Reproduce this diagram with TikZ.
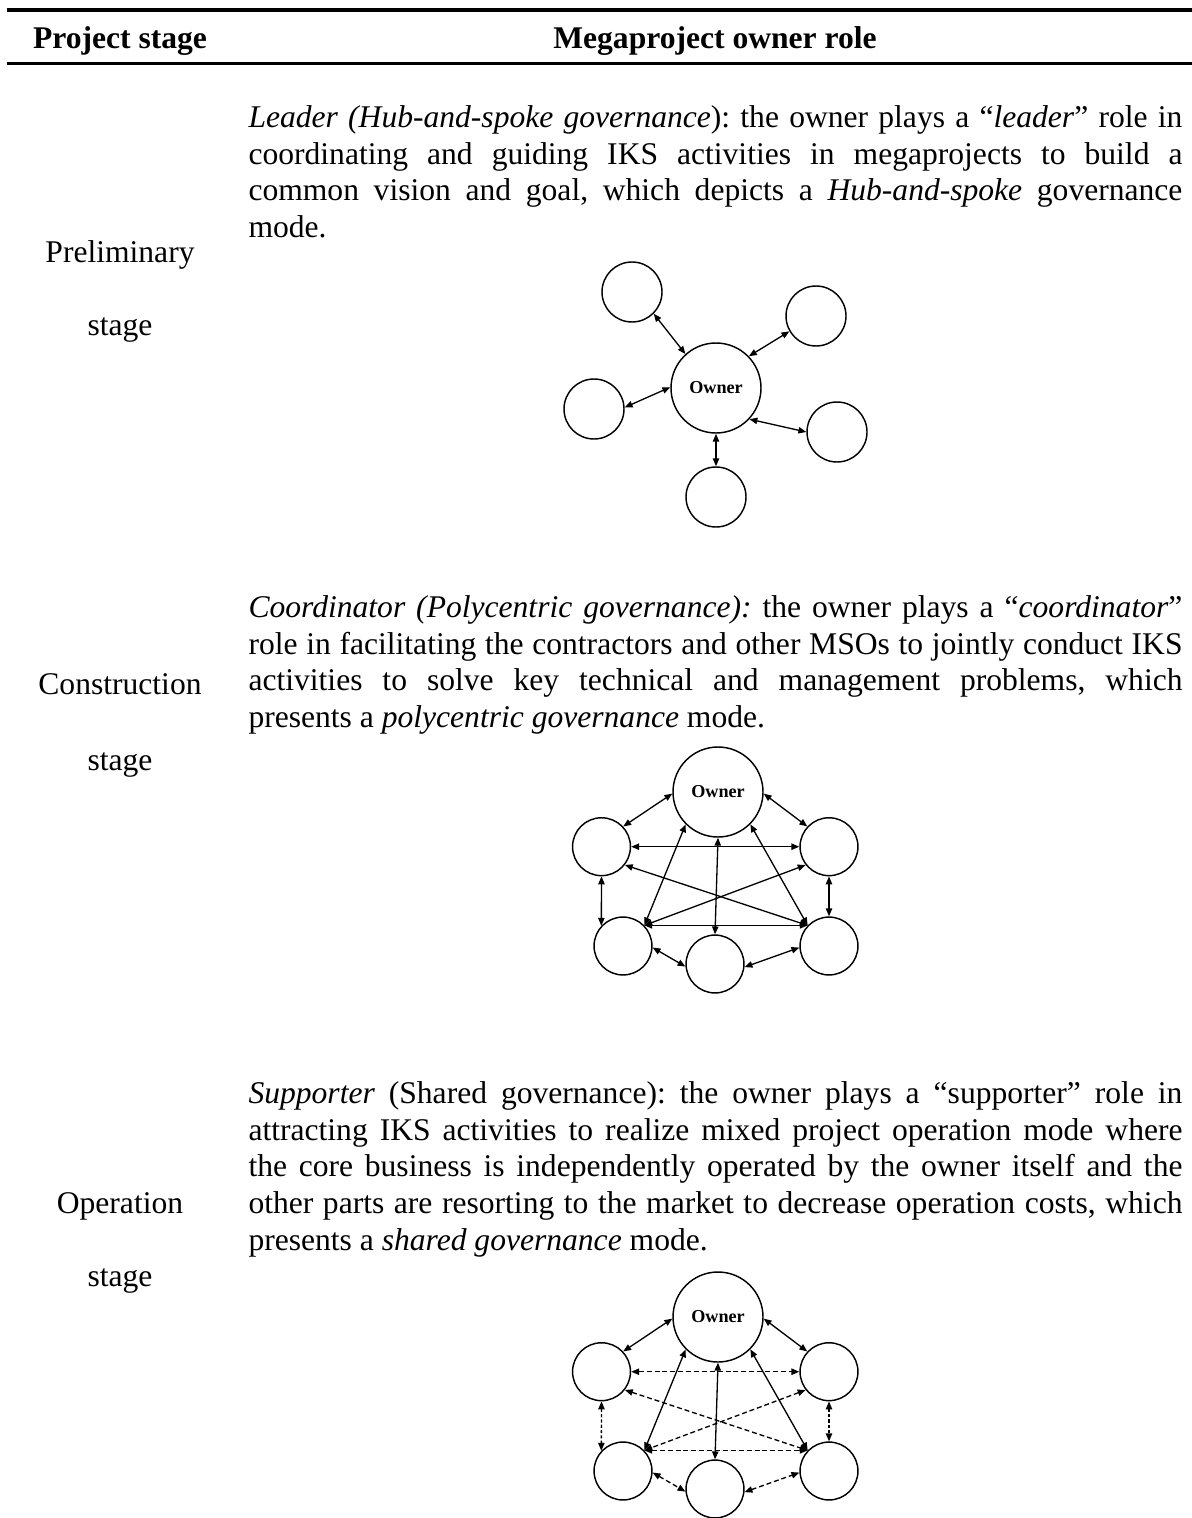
\documentclass[tikz,border=0pt]{standalone}
\usepackage{fontspec}
\setmainfont{Liberation Serif}
\usetikzlibrary{arrows.meta}
\frenchspacing
% one fully justified line of a description paragraph
\newcommand\jline[1]{\makebox[354.9pt][s]{#1}}
\begin{document}
\begin{tikzpicture}[x=0.38pt,y=-0.38pt,
  hub/.style={circle,draw,line width=0.55pt,minimum size=34.2pt,inner sep=0pt,
    font=\fontsize{6.9pt}{8pt}\selectfont\bfseries},
  spoke/.style={circle,draw,line width=0.55pt,minimum size=22.8pt,inner sep=0pt},
  spokeb/.style={circle,draw,line width=0.55pt,minimum size=22pt,inner sep=0pt},
  link/.style={line width=0.5pt,{Triangle[length=3pt,width=2.4pt]}-{Triangle[length=3pt,width=2.4pt]}},
  weak/.style={link,dash pattern=on 1.9pt off 1.1pt},
  weakv/.style={link,dash pattern=on 1.2pt off 0.8pt},
  para/.style={anchor=north west,inner sep=0pt,align=left,
    font=\fontsize{12pt}{13.95pt}\selectfont},
  stagelbl/.style={anchor=base,inner sep=0pt,font=\fontsize{12pt}{13.95pt}\selectfont},
  head/.style={anchor=base,inner sep=0pt,font=\fontsize{12pt}{13.95pt}\selectfont\bfseries}]

\useasboundingbox[fill=white] (0,0) rectangle (1192,1518);

% table rules and header row
\draw[line width=1.52pt] (7,10.5) -- (1192,10.5);
\draw[line width=1.03pt] (7,63.3) -- (1192,63.3);
\node[head] (h1) at (120,49) {Project stage};
\node[head] (h2) at (715,49) {Megaproject owner role};

% stage column
\node[stagelbl] (s1a) at (120,262) {Preliminary};
\node[stagelbl] (s1b) at (120,335) {stage};
\node[stagelbl] (s2a) at (120,694) {Construction};
\node[stagelbl] (s2b) at (120,770) {stage};
\node[stagelbl] (s3a) at (120,1213) {Operation};
\node[stagelbl] (s3b) at (120,1286) {stage};

% role descriptions
\node[para] (t1) at (248,100.7) {%
\rule{0pt}{10pt}\jline{\textit{Leader (Hub-and-spoke governance}): the owner plays a “\textit{leader}” role in}\\
\jline{coordinating and guiding IKS activities in megaprojects to build a}\\
\jline{common vision and goal, which depicts a \textit{Hub-and-spoke} governance}\\
mode.};

\node[para] (t2) at (248,590.7) {%
\rule{0pt}{10pt}\jline{\textit{Coordinator (Polycentric governance):} the owner plays a “\textit{coordinator}”}\\
\jline{role in facilitating the contractors and other MSOs to jointly conduct IKS}\\
\jline{activities to solve key technical and management problems, which}\\
presents a \textit{polycentric governance} mode.};

\node[para] (t3) at (248,1076.7) {%
\rule{0pt}{10pt}\jline{\textit{Supporter} (Shared governance): the owner plays a “supporter” role in}\\
\jline{attracting IKS activities to realize mixed project operation mode where}\\
\jline{the core business is independently operated by the owner itself and the}\\
\jline{other parts are resorting to the market to decrease operation costs, which}\\
presents a \textit{shared governance} mode.};

% hub-and-spoke network
\node[hub] (o1) at (716,388) {Owner};
\node[spoke] (a1) at (632,292) {};
\node[spoke] (b1) at (816,316) {};
\node[spoke] (c1) at (594,409) {};
\node[spoke] (d1) at (837,432) {};
\node[spoke] (e1) at (716,497) {};
\draw[link] (o1.132) -- (a1.-45);
\draw[link] (o1.44) -- (b1.-150);
\draw[link] (o1.179) -- (c1.3);
\draw[link] (o1.-43) -- (d1.180);
\draw[link] (o1.-90) -- (e1.90);

% polycentric network
\node[hub] (o2) at (718,792) {Owner};
\node[spokeb] (l2) at (601.5,846.7) {};
\node[spokeb] (r2) at (829,846.7) {};
\node[spokeb] (p2) at (623,946) {};
\node[spokeb] (q2) at (715,964) {};
\node[spokeb] (u2) at (829,946) {};
\draw[link] (o2.182) -- (l2.43);
\draw[link] (o2.-2) -- (r2.137);
\draw[link] (l2.0) -- (r2.180);
\draw[link] (l2.-90) -- (p2.137.5);
\draw[link] (r2.-90) -- (u2.90);
\draw[link] (l2.-38) -- (u2.136);
\draw[link] (r2.-142) -- (p2.44);
\draw[link] (p2.44) -- (u2.136);
\draw[link] (o2.-135) -- (p2.44);
\draw[link] (o2.-45) -- (u2.136);
\draw[link] (o2.-90) -- (q2.90);
\draw[link] (p2.-3) -- (q2.185);
\draw[link] (q2.-6) -- (u2.183);

% shared network
\node[hub] (o3) at (718,1317) {Owner};
\node[spokeb] (l3) at (601.5,1371.7) {};
\node[spokeb] (r3) at (829,1371.7) {};
\node[spokeb] (p3) at (623,1471) {};
\node[spokeb] (q3) at (715,1489) {};
\node[spokeb] (u3) at (829,1471) {};
\draw[link] (o3.182) -- (l3.43);
\draw[link] (o3.-2) -- (r3.137);
\draw[weak] (l3.0) -- (r3.180);
\draw[weakv] (l3.-90) -- (p3.137.5);
\draw[weakv] (r3.-90) -- (u3.90);
\draw[weak] (l3.-38) -- (u3.136);
\draw[weak] (r3.-142) -- (p3.44);
\draw[weak] (p3.44) -- (u3.136);
\draw[link] (o3.-135) -- (p3.44);
\draw[link] (o3.-45) -- (u3.136);
\draw[link] (o3.-90) -- (q3.90);
\draw[weak] (p3.-3) -- (q3.185);
\draw[weak] (q3.-6) -- (u3.183);
\end{tikzpicture}
\end{document}
